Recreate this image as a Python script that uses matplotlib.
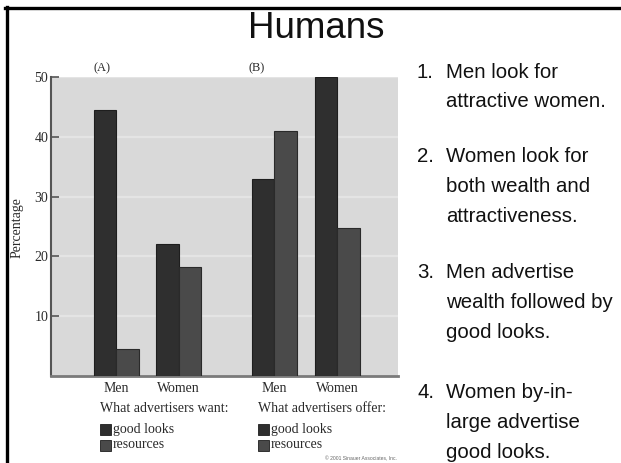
import matplotlib
matplotlib.use("Agg")
import matplotlib.pyplot as plt
from matplotlib.lines import Line2D
from matplotlib.patches import Rectangle

W, H = 621, 463
DPI = 100

# ---- data ----
groups = ["Men", "Women", "Men", "Women"]
panels = ["(A)", "(B)"]
good_looks = [44.5, 22.0, 33.0, 50.0]
resources = [4.5, 18.2, 40.9, 24.8]
yticks = [10, 20, 30, 40, 50]
series_names = ["good looks", "resources"]
captions = ["What advertisers want:", "What advertisers offer:"]
title = "Humans"
notes = [
    ("1.", ["Men look for", "attractive women."]),
    ("2.", ["Women look for", "both wealth and", "attractiveness."]),
    ("3.", ["Men advertise", "wealth followed by", "good looks."]),
    ("4.", ["Women by-in-", "large advertise", "good looks."]),
]
copyright_text = "\u00a9 2001 Sinauer Associates, Inc."

# ---- layout helpers ----
def fx(px):
    return px / W

def fy(py):
    return 1 - py / H

fig = plt.figure(figsize=(W / DPI, H / DPI), dpi=DPI)
fig.patch.set_facecolor("white")

serif = ["Liberation Serif", "DejaVu Serif"]
sans = ["Liberation Sans", "DejaVu Sans"]
txt_col = "#2a2a2a"

# axes
left, right, top, bottom = 51, 398, 77, 376
ax = fig.add_axes([fx(left), fy(bottom), fx(right - left), (bottom - top) / H])
ax.set_facecolor("#d9d9d9")

pos = [0.0, 1.0, 2.53, 3.54]
bw = 0.36
c_good = "#2f2f2f"
c_res = "#4a4a4a"
ax.bar([p - bw / 2 for p in pos], good_looks, width=bw, color=c_good,
       edgecolor="#1e1e1e", linewidth=0.8, zorder=3)
ax.bar([p + bw / 2 for p in pos], resources, width=bw, color=c_res,
       edgecolor="#2a2a2a", linewidth=0.8, zorder=3)

ax.set_xlim(-1.04, 4.51)
ax.set_ylim(0, 50)
ax.set_yticks(yticks)
ax.set_yticklabels([str(v) for v in yticks], fontfamily=serif, fontsize=10, color=txt_col)
ax.set_xticks(pos)
ax.set_xticklabels(groups, fontfamily=serif, fontsize=10, color=txt_col)
ax.tick_params(axis="y", direction="in", length=6, width=1.2, color="#555555", pad=2)
ax.tick_params(axis="x", length=0, pad=4)
ax.yaxis.grid(True, color="#e4e4e4", linewidth=1.6, zorder=0)
ax.set_axisbelow(True)
for s in ["top", "right"]:
    ax.spines[s].set_visible(False)
ax.spines["left"].set_color("#555555")
ax.spines["left"].set_linewidth(1.5)
ax.spines["bottom"].set_color("#7a7a7a")
ax.spines["bottom"].set_linewidth(2)

fig.text(fx(17), fy(228), "Percentage", rotation=90, ha="center", va="center",
         fontfamily=serif, fontsize=10, color=txt_col)

# panel labels
fig.text(fx(102), fy(68), panels[0], ha="center", va="center", fontfamily=serif,
         fontsize=9, color=txt_col)
fig.text(fx(257), fy(68), panels[1], ha="center", va="center", fontfamily=serif,
         fontsize=9, color=txt_col)

# captions and legends
for cx, cap in zip([100, 258], captions):
    fig.text(fx(cx), fy(408), cap, ha="left", va="center", fontfamily=serif,
             fontsize=10, color=txt_col)
    for i, (name, col) in enumerate(zip(series_names, [c_good, c_res])):
        yc = 429 + i * 16
        fig.add_artist(Rectangle((fx(cx), fy(yc + 5.5)), fx(11), 11 / H,
                                 facecolor=col, edgecolor="#1e1e1e", linewidth=0.6,
                                 transform=fig.transFigure))
        fig.text(fx(cx + 13), fy(yc), name, ha="left", va="center",
                 fontfamily=serif, fontsize=10, color=txt_col)

fig.text(fx(397), fy(459), copyright_text, ha="right", va="center",
         fontfamily=sans, fontsize=3.6, color="#666666")

# frame lines
fig.add_artist(Line2D([fx(5), fx(621)], [fy(7.5), fy(7.5)], color="black",
                      linewidth=2.4, transform=fig.transFigure))
fig.add_artist(Line2D([fx(7), fx(7)], [fy(6.5), fy(463)], color="black",
                      linewidth=2.4, transform=fig.transFigure))

# title
fig.text(fx(316), fy(28), title, ha="center", va="center", fontfamily=sans,
         fontsize=26.5, color="#111111")

# notes
note_rows = [[72, 101], [157, 187, 216], [273, 303, 333], [393, 423, 453]]
for (num, lines), rows in zip(notes, note_rows):
    fig.text(fx(417), fy(rows[0]), num, ha="left", va="center", fontfamily=sans,
             fontsize=14.7, color="#111111")
    for ln, yy in zip(lines, rows):
        fig.text(fx(446), fy(yy), ln, ha="left", va="center", fontfamily=sans,
                 fontsize=14.7, color="#111111")

fig.savefig("out.png", dpi=DPI)
